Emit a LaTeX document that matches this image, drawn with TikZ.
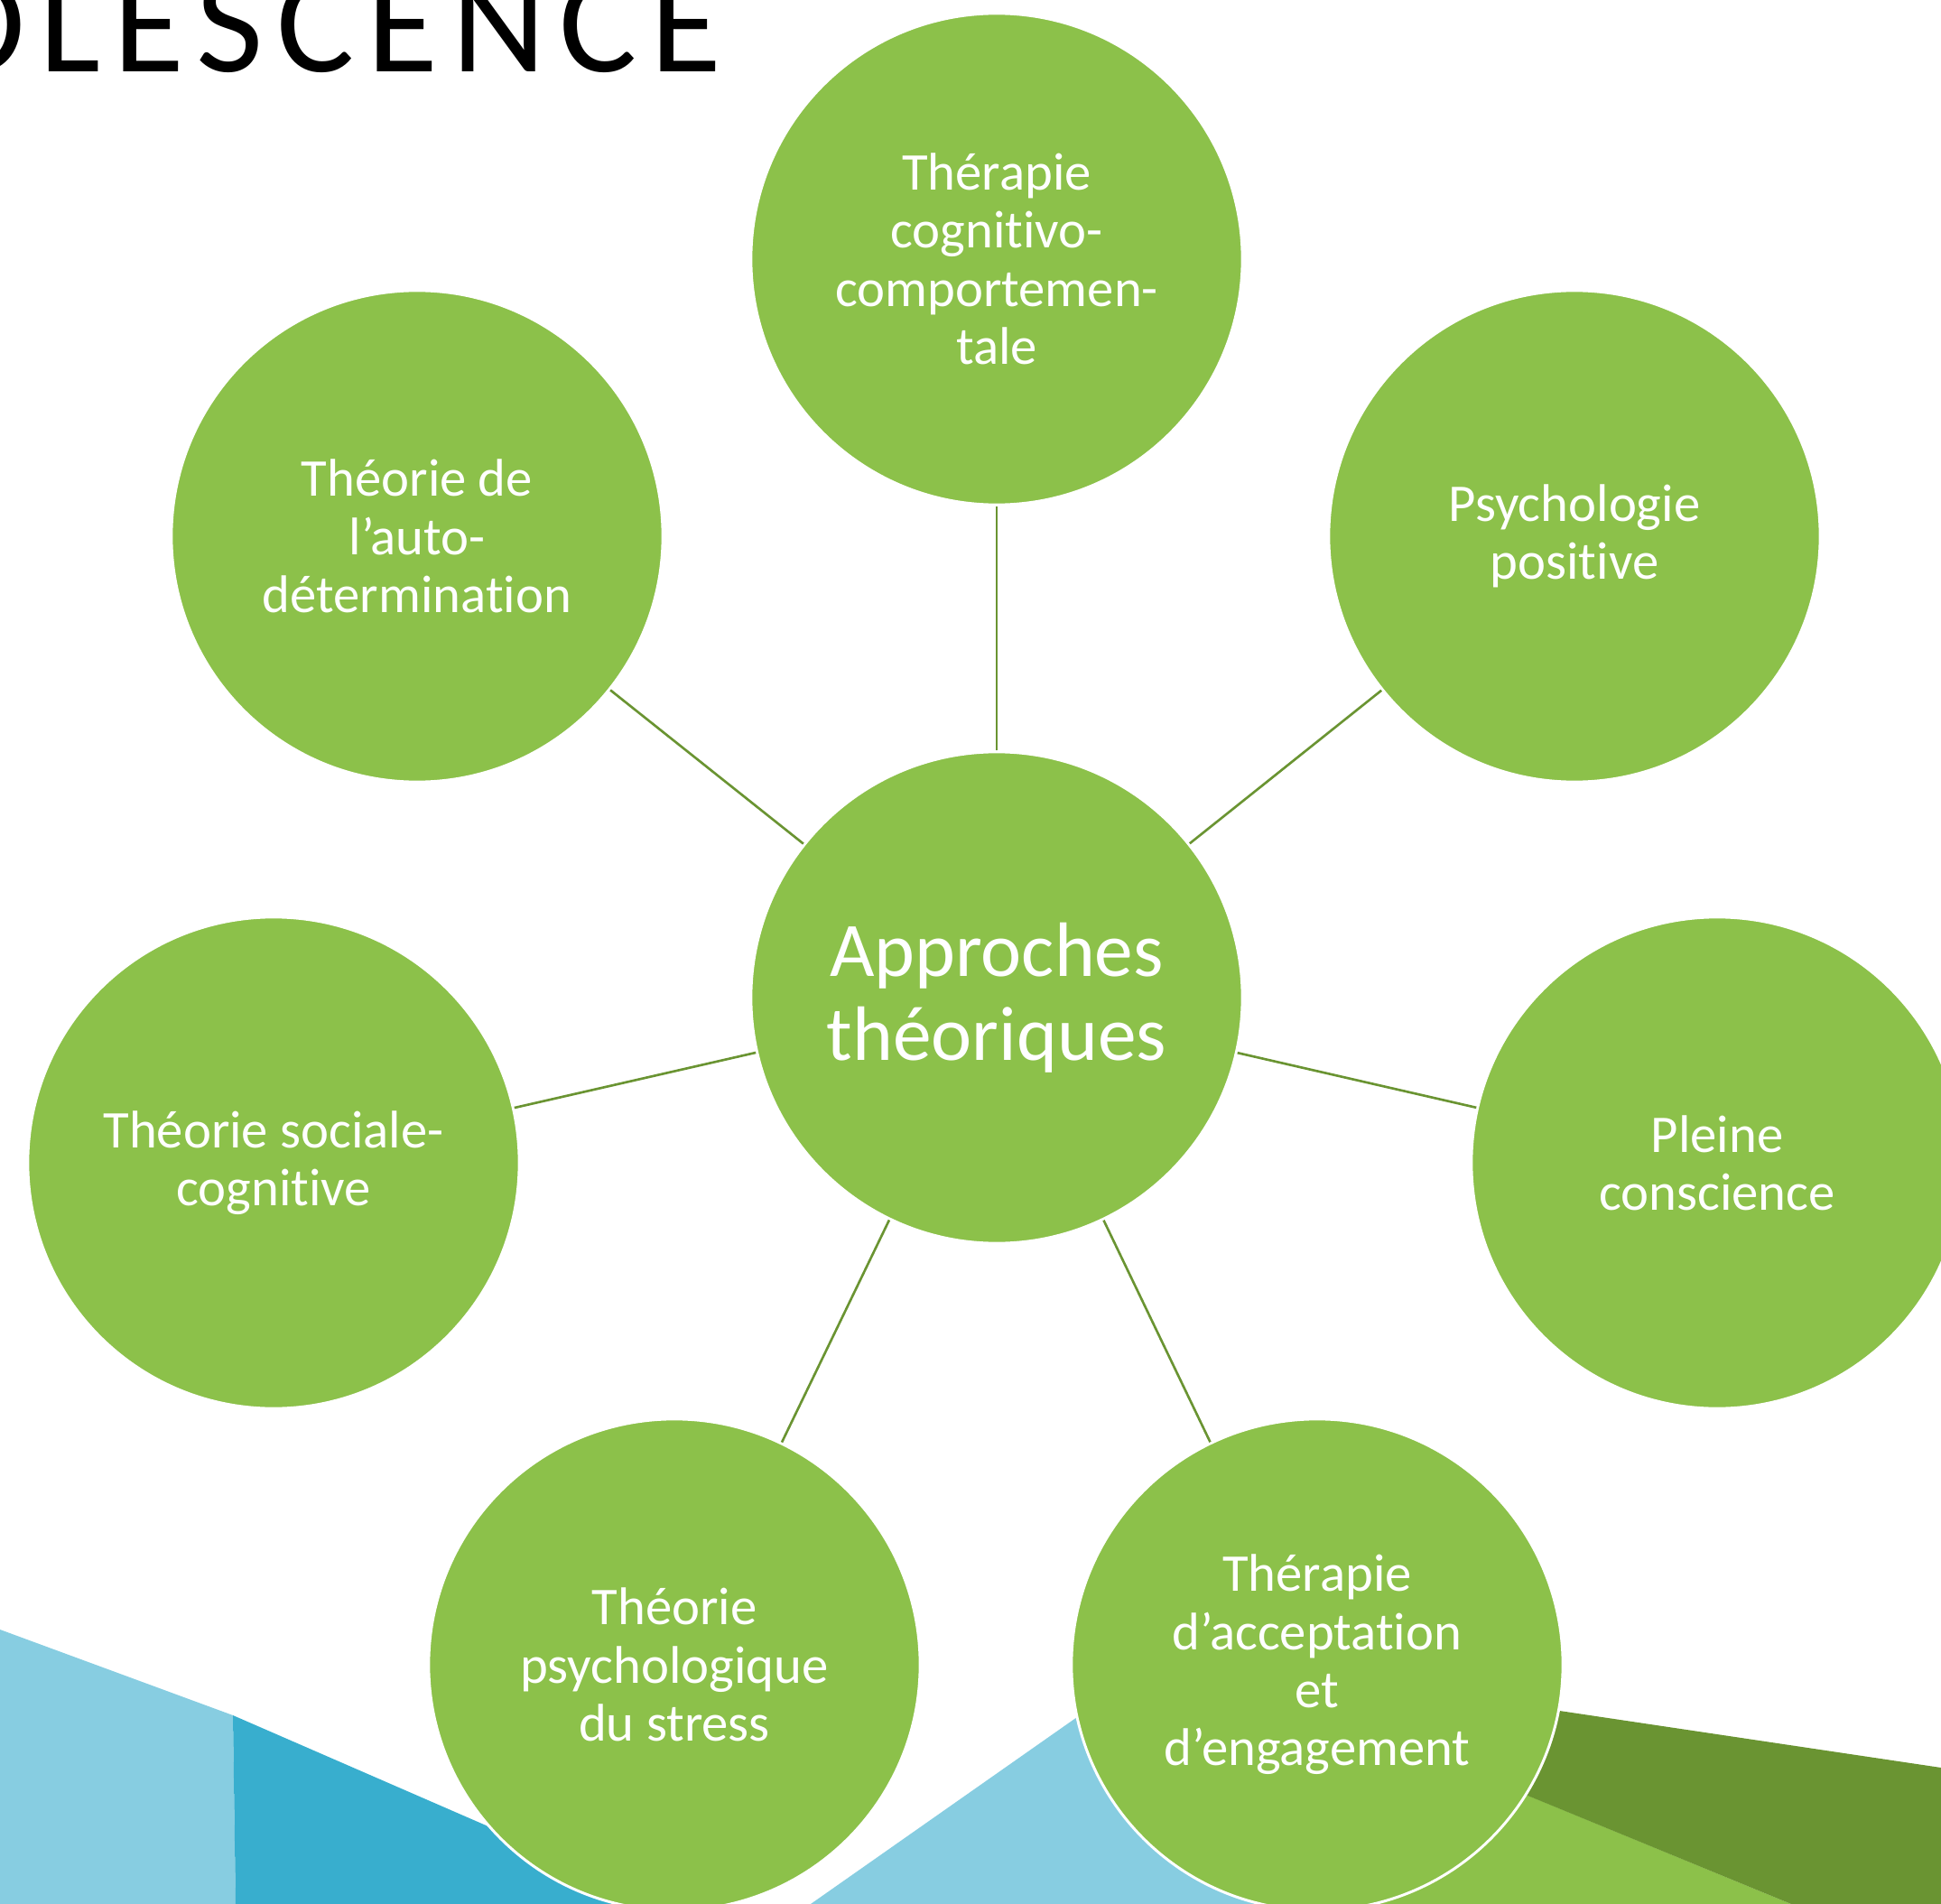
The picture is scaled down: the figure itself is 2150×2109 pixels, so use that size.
\documentclass[tikz,border=0pt]{standalone}
\usepackage{fontspec}
\setmainfont{Carlito}[Ligatures=NoCommon]
\newfontfamily\titlefont[LetterSpace=9,Ligatures=NoCommon]{Carlito}
\definecolor{leaf}{RGB}{140,193,74}
\definecolor{darkleaf}{RGB}{106,148,50}
\definecolor{skyblue}{RGB}{135,205,225}
\definecolor{seablue}{RGB}{56,174,206}

\begin{document}
\begin{tikzpicture}[x=0.01cm,y=-0.01cm,
        bubble/.style={circle,fill=leaf,draw=white,line width=0.85pt,
            minimum size=5.44cm,inner sep=0pt,align=center,text=white,
            font=\fontsize{16.7}{18.3}\selectfont},
        hub/.style={bubble,font=\fontsize{24.3}{26.6}\selectfont},
        spoke/.style={darkleaf,line width=0.75pt}
    ]
            \useasboundingbox (0,0) rectangle (2150,2109);
            \clip (0,0) rectangle (2150,2109);

            \fill[skyblue] (0,1805) -- (258,1900) -- (261,2109) -- (0,2109) -- cycle;
            \fill[seablue] (258,1900) -- (720,2101) -- (720,2109) -- (261,2109) -- cycle;
            \fill[skyblue] (898,2109) -- (1300,1827) -- (1459,2109) -- cycle;
            \fill[leaf] (1459,2109) -- (1459,1900) -- (1693,1989) -- (1984,2109) -- cycle;
            \fill[darkleaf] (1600,1876) -- (2150,1958) -- (2150,2109) -- (1984,2109) -- (1600,1951) -- cycle;

            \node[anchor=base east,font=\titlefont\fontsize{46}{50}\selectfont] (title) at (812,80) {ADOLESCENCE};

            \node[hub] (hub) at (1104,1105) {Approches\\théoriques};
            \node[bubble] (tcc) at (1104,287) {Thérapie\\cognitivo-\\comportemen-\\tale};
            \node[bubble] (sdt) at (462,594) {Théorie de\\l’auto-\\détermination};
            \node[bubble] (pos) at (1744,594) {Psychologie\\positive};
            \node[bubble] (tsc) at (303,1288) {Théorie sociale-\\cognitive};
            \node[bubble] (plc) at (1902,1288) {Pleine\\conscience};
            \node[bubble] (tps) at (747,1844) {Théorie\\psychologique\\du stress};
            \node[bubble] (act) at (1459,1844) {Thérapie\\d’acceptation\\et\\d’engagement};

            \foreach \n in {tcc,sdt,pos,tsc,plc,tps,act}
                \draw[spoke] (hub) -- (\n);
        \end{tikzpicture}
\end{document}
